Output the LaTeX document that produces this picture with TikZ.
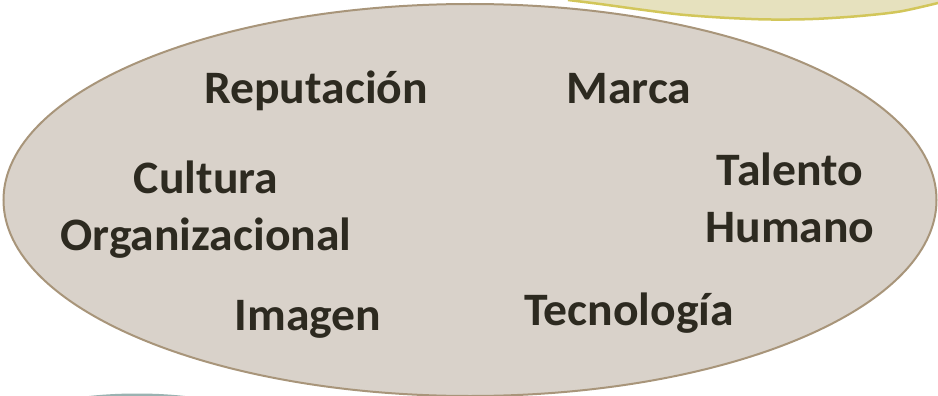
\documentclass[tikz,border=0pt]{standalone}
\usepackage{fontspec}
\setmainfont{Carlito}[FakeStretch=1.025]
\usetikzlibrary{shapes.geometric}
\definecolor{ovalfill}{HTML}{D9D2CA}
\definecolor{ovaledge}{HTML}{A8957A}
\definecolor{yelfill}{HTML}{E6E1BE}
\definecolor{yeledge}{HTML}{D2C65A}
\definecolor{tealfill}{HTML}{9AB2B1}
\definecolor{txt}{HTML}{2D2A20}
\begin{document}
\begin{tikzpicture}[x=1pt,y=-1pt,
  lbl/.style={font=\fontsize{46.5}{57}\selectfont\bfseries, text=txt, inner sep=0pt, anchor=base, align=center}]
\useasboundingbox (0,0) rectangle (938,396);
% top-right yellow shape
\fill[yelfill] (560,0) -- plot[smooth] coordinates {(568,0) (600,4) (640,9.5) (680,14.5) (720,17.5) (760,19.3) (790,19.5) (820,18.7) (860,16) (900,11.5) (938,3)} -- (938,0) -- cycle;
\draw[yeledge, line width=2.5pt] plot[smooth] coordinates {(568,0) (600,4) (640,9.5) (680,14.5) (720,17.5) (760,19.3) (790,19.5) (820,18.7) (860,16) (900,11.5) (938,3)};
% bottom-left teal shape
\fill[tealfill] (137,423.5) ellipse [x radius=120, y radius=30];
% main oval
\node[draw=ovaledge, fill=ovalfill, line width=2pt, ellipse, minimum width=933pt, minimum height=392pt, inner sep=0pt] (oval) at (470,200) {};
\node[lbl] (rep) at (316,103) {Reputación};
\node[lbl] (mar) at (629,103) {Marca};
\node[lbl] (cul) at (206,250) {Cultura\\Organizacional};
\node[lbl] (tal) at (790,242) {Talento\\Humano};
\node[lbl] (ima) at (308,330) {Imagen};
\node[lbl] (tec) at (629,325) {Tecnología};
\end{tikzpicture}
\end{document}
